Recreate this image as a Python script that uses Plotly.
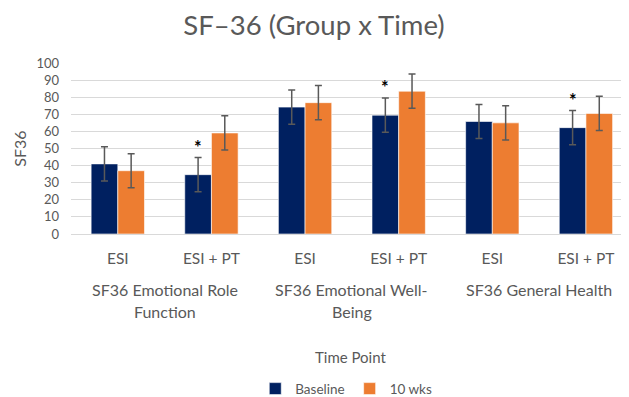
import plotly.graph_objects as go

group_lines = [["SF36 Emotional Role", "Function"],
               ["SF36 Emotional Well-", "Being"],
               ["SF36 General Health"]]
arms = ["ESI", "ESI + PT", "ESI", "ESI + PT", "ESI", "ESI + PT"]
baseline = [41, 34.7, 74.2, 69.5, 65.8, 62.2]
wk10 = [37, 59.1, 76.8, 83.5, 65.0, 70.5]
baseline_err = [10, 10, 10, 10, 10, 10]
wk10_err = [10, 10, 10, 10, 10, 10]
baseline_sig = [False, True, False, True, False, True]

NAVY = "#002060"
ORANGE = "#ED7D31"
GRAY = "#595959"
FONT = "Lato"

# page body has an 8px default margin; work in window pixels and subtract it
OFF = 8
W, H = 629 - OFF, 397 - OFF
LEFT = 70.5 - OFF
TOP, BOTTOM = 63.3 - OFF, 233.7 - OFF
PH = BOTTOM - TOP
PW = W - LEFT


def py(win_y):
    return (BOTTOM - (win_y - OFF)) / PH


def px(win_x):
    return (win_x - OFF - LEFT) / PW


pos = list(range(len(arms)))

fig = go.Figure()
fig.add_trace(go.Bar(
    x=pos, y=baseline, name="Baseline",
    marker=dict(color=NAVY, line=dict(color="#ffffff", width=0.6)),
    error_y=dict(type="data", array=baseline_err, color=GRAY, thickness=1.5, width=3.5),
))
fig.add_trace(go.Bar(
    x=pos, y=wk10, name="10 wks",
    marker=dict(color=ORANGE, line=dict(color="#ffffff", width=0.6)),
    error_y=dict(type="data", array=wk10_err, color=GRAY, thickness=1.5, width=3.5),
))

for i, (s, v, e) in enumerate(zip(baseline_sig, baseline, baseline_err)):
    if s:
        fig.add_annotation(x=i - 0.1425, y=v + e, xref="x", yref="y", text="<b>*</b>",
                           showarrow=False, yanchor="middle", yshift=11,
                           font=dict(family=FONT, size=18, color="#000000"))

for g, lines in enumerate(group_lines):
    for k, line in enumerate(lines):
        fig.add_annotation(x=2 * g + 0.5, y=py(289.5 + 21 * k), xref="x", yref="paper",
                           text=line, showarrow=False, yanchor="middle",
                           font=dict(family=FONT, size=16, color=GRAY))

fig.add_annotation(x=px(350), y=py(356), xref="paper", yref="paper",
                   text="Time Point", showarrow=False, yanchor="middle",
                   font=dict(family=FONT, size=15, color=GRAY))

fig.update_layout(
    width=W, height=H,
    margin=dict(l=LEFT, r=0, t=TOP, b=H - BOTTOM, autoexpand=False),
    paper_bgcolor="white", plot_bgcolor="white",
    barmode="group", bargap=0.43, bargroupgap=0,
    font=dict(family=FONT, color=GRAY, size=13),
    title=dict(text="SF\u201336 (Group x Time)", x=(314 - OFF) / W, xanchor="center",
               yref="container", y=1 - (25 - OFF) / H, yanchor="middle",
               font=dict(family=FONT, size=27.5, color=GRAY)),
    xaxis=dict(range=[-0.5, 5.46], tickvals=pos, ticktext=arms, automargin=False,
               showgrid=False, zeroline=False,
               showline=True, linecolor="#d9d9d9", linewidth=1, ticklabelstandoff=10,
               tickfont=dict(family=FONT, size=15.5, color=GRAY), ticks=""),
    yaxis=dict(range=[0, 100], dtick=10, showgrid=True, gridcolor="#d9d9d9", gridwidth=1,
               zeroline=False, ticks="", automargin=False, ticklabelstandoff=11,
               tickfont=dict(family=FONT, size=13, color=GRAY),
               title=dict(text="SF36", font=dict(family=FONT, size=16, color=GRAY), standoff=5)),
    legend=dict(orientation="h", x=px(346), xanchor="center",
                y=py(388), yanchor="middle",
                font=dict(family=FONT, size=13.5, color=GRAY), traceorder="normal"),
    showlegend=True,
)

fig.write_html("out.html")
